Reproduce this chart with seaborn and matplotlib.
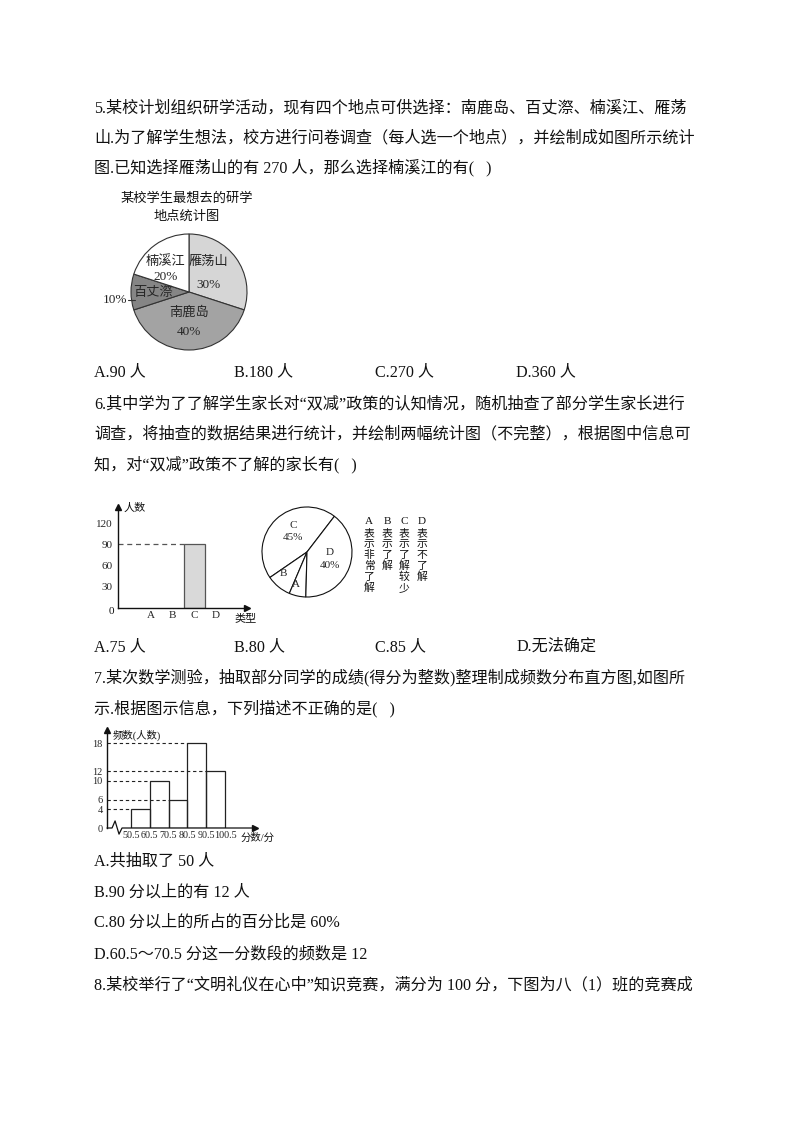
import numpy as np
import pandas as pd
import matplotlib
matplotlib.use("Agg")
import matplotlib.pyplot as plt
import seaborn as sns

# question 5: pie of study-trip spots
spots = ["雁荡山", "南鹿岛", "百丈漈", "楠溪江"]
spot_pct = [30, 40, 10, 20]
spot_colors = ["#d6d6d6", "#a3a3a3", "#858585", "#ffffff"]

# question 6: bar chart (only C known) and pie of parent groups
types = ["A", "B", "C", "D"]
known_types = ["C"]
known_counts = [90]
bar_ticks = [30, 60, 90, 120]
pie_types = ["C", "B", "A", "D"]
pie_pct = [45, 9, 6, 40]
legend_text = ["表示非常了解", "表示了解", "表示了解较少", "表示不了解"]

# question 7: frequency histogram
bin_edges = [50.5, 60.5, 70.5, 80.5, 90.5, 100.5]
bin_freq = [4, 10, 6, 18, 12]
freq_ticks = [0, 4, 6, 10, 12, 18]

# page text
q5_lines = [
    "5.某校计划组织研学活动，现有四个地点可供选择：南鹿岛、百丈漈、楠溪江、雁荡",
    "山.为了解学生想法，校方进行问卷调查（每人选一个地点），并绘制成如图所示统计",
    "图.已知选择雁荡山的有 270 人，那么选择楠溪江的有(   )",
]
q5_opts = ["A.90 人", "B.180 人", "C.270 人", "D.360 人"]
q6_lines = [
    "6.其中学为了了解学生家长对“双减”政策的认知情况，随机抽查了部分学生家长进行",
    "调查，将抽查的数据结果进行统计，并绘制两幅统计图（不完整），根据图中信息可",
    "知，对“双减”政策不了解的家长有(   )",
]
q6_opts = ["A.75 人", "B.80 人", "C.85 人", "D.无法确定"]
q7_lines = [
    "7.某次数学测验，抽取部分同学的成绩(得分为整数)整理制成频数分布直方图,如图所",
    "示.根据图示信息，下列描述不正确的是(   )",
]
q7_opts = [
    "A.共抽取了 50 人",
    "B.90 分以上的有 12 人",
    "C.80 分以上的所占的百分比是 60%",
    "D.60.5～70.5 分这一分数段的频数是 12",
]
q8_line = "8.某校举行了“文明礼仪在心中”知识竞赛，满分为 100 分，下图为八（1）班的竞赛成"

sns.set_theme(style="white")
plt.rcParams["font.family"] = ["Liberation Serif", "Noto Sans CJK SC"]

W, H = 794, 1123
fig = plt.figure(figsize=(W / 100, H / 100), dpi=100)
fig.patch.set_facecolor("white")


def box(x0, y0, x1, y1):
    return [x0 / W, 1 - y1 / H, (x1 - x0) / W, (y1 - y0) / H]


def put(x, y, s, size=11.6, ha="left", **kw):
    fig.text(x / W, 1 - y / H, s, fontsize=size, ha=ha, va="center",
             color="#111111", **kw)


# body text
for s, y in zip(q5_lines, [108, 138, 168]):
    put(94, y, s)
for s, x in zip(q5_opts, [94, 234, 375, 516]):
    put(x, 372, s)
for s, y in zip(q6_lines, [404, 434, 465]):
    put(94, y, s)
for s, x in zip(q6_opts, [94, 234, 375, 516]):
    put(x, 647, s)
for s, y in zip(q7_lines, [678, 709]):
    put(94, y, s)
for s, y in zip(q7_opts, [862, 893, 923, 954]):
    put(94, y, s)
put(94, 985, q8_line)

# ---- question 5 pie ----
cx, cy, r = 189, 292, 58
ax1 = fig.add_axes(box(cx - r - 2, cy - r - 2, cx + r + 2, cy + r + 2))
ax1.pie(spot_pct, colors=spot_colors, startangle=90, counterclock=False,
        wedgeprops=dict(edgecolor="#333333", linewidth=0.8))
lim = (r + 2) / r
ax1.set_xlim(-lim, lim)
ax1.set_ylim(-lim, lim)
ax1.set_aspect("equal")
ax1.axis("off")
put(187, 199, "某校学生最想去的研学", size=9.5, ha="center")
put(187, 217, "地点统计图", size=9.5, ha="center")
lab_pos = {"雁荡山": (0.33, 0.52, 0.12), "南鹿岛": (0.0, -0.36, -0.69),
           "楠溪江": (-0.41, 0.52, 0.26)}
for name, p in zip(spots, spot_pct):
    if name in lab_pos:
        lx, ly1, ly2 = lab_pos[name]
        ax1.text(lx, ly1, name, ha="center", va="center", fontsize=9.5)
        ax1.text(lx, ly2, f"{p}%", ha="center", va="center", fontsize=9.5)
ax1.text(-0.62, -0.02, spots[2], ha="center", va="center", fontsize=9.5)
ax1.text(-1.06, -0.14, f"{spot_pct[2]}%", ha="right", va="center", fontsize=9.5)
ax1.plot([-1.06, -0.93], [-0.14, -0.14], color="#333333", lw=0.8, clip_on=False)

# ---- question 6 bar chart ----
ax3 = fig.add_axes(box(118, 507, 247, 608))
sns.barplot(x=known_types, y=known_counts, order=types, width=1.0,
            color="#d9d9d9", edgecolor="#555555", linewidth=0.9,
            saturation=1, errorbar=None, ax=ax3)
x0, x1 = -1.52, 4.42
ax3.set_xlim(x0, x1)
ax3.set_ylim(0, 142.6)
ax3.hlines(known_counts[0], x0, types.index(known_types[0]) - 0.5,
           colors="#555555", linestyles=(0, (4, 3)), lw=0.9)
ax3.set_yticks(bar_ticks)
ax3.set_yticklabels([str(v) for v in bar_ticks], fontsize=8)
ax3.set_xticks(range(len(types)))
ax3.set_xticklabels(types, fontsize=8)
ax3.set_xticks(np.arange(-0.5, len(types), 1), minor=True)
ax3.tick_params(axis="x", which="major", length=0, pad=2)
ax3.tick_params(axis="x", which="minor", direction="in", length=4, width=0.8, color="#333333")
ax3.tick_params(axis="y", direction="out", length=3, width=0.8, pad=1, color="#333333")
ax3.set_xlabel("")
ax3.set_ylabel("")
sns.despine(ax=ax3)
for side in ["left", "bottom"]:
    ax3.spines[side].set_color("#111111")
    ax3.spines[side].set_linewidth(1.0)
ax3.plot(0, 1, marker="^", color="#111111", ms=5, transform=ax3.transAxes, clip_on=False)
ax3.plot(1, 0, marker=">", color="#111111", ms=5, transform=ax3.transAxes, clip_on=False)
ax3.patch.set_alpha(0)
put(111, 612, "0", size=8, ha="center")
put(124, 508, "人数", size=8)
put(246, 618, "类型", size=8, ha="center")

# ---- question 6 pie ----
px, py, pr = 307, 552, 45
ax2 = fig.add_axes(box(px - pr - 2, py - pr - 2, px + pr + 2, py + pr + 2))
ax2.pie(pie_pct, colors=["white"] * len(pie_pct), startangle=52.5,
        counterclock=True, wedgeprops=dict(edgecolor="#111111", linewidth=0.8))
lim = (pr + 2) / pr
ax2.set_xlim(-lim, lim)
ax2.set_ylim(-lim, lim)
ax2.set_aspect("equal")
ax2.axis("off")
pie_lab = {"C": (-0.31, 0.58, 0.33), "D": (0.51, -0.02, -0.29),
           "B": (-0.53, -0.47, None), "A": (-0.24, -0.73, None)}
for t, p in zip(pie_types, pie_pct):
    lx, ly1, ly2 = pie_lab[t]
    ax2.text(lx, ly1, t, ha="center", va="center", fontsize=8)
    if ly2 is not None:
        ax2.text(lx, ly2, f"{p}%", ha="center", va="center", fontsize=8)

# vertical legend
for t, desc, x in zip(types, legend_text, [369, 387, 404, 422]):
    put(x, 522, t, size=8, ha="center")
    for i, ch in enumerate(desc):
        put(x, 533 + i * 11.0, ch, size=7.8, ha="center")

# ---- question 7 histogram ----
ax4 = fig.add_axes(box(107, 730, 255, 828))
mids = [(a + b) / 2 for a, b in zip(bin_edges[:-1], bin_edges[1:])]
sns.histplot(x=mids, weights=bin_freq, bins=bin_edges, fill=False,
             color="#222222", linewidth=0.9, ax=ax4)
hx0, hx1 = 37.7, 116.5
ax4.set_xlim(hx0, hx1)
ax4.set_ylim(0, 20.8)
for edge, f in zip(bin_edges[:-1], bin_freq):
    ax4.hlines(f, hx0, edge, colors="#222222", linestyles=(0, (3, 2.5)), lw=0.8)
ax4.set_yticks(freq_ticks)
ax4.set_yticklabels([str(v) for v in freq_ticks], fontsize=7.5)
ax4.set_xticks(bin_edges)
ax4.set_xticklabels([f"{v:g}" for v in bin_edges], fontsize=7.3)
ax4.tick_params(axis="x", length=0, pad=2)
ax4.tick_params(axis="y", direction="out", length=2, width=0.8, pad=1)
ax4.set_xlabel("")
ax4.set_ylabel("")
sns.despine(ax=ax4, bottom=True)
ax4.spines["left"].set_color("#111111")
ax4.spines["left"].set_linewidth(1.0)
# x axis with break mark near the origin
ax4.plot([hx0, 40.4, 42.0, 44.1, 45.7, hx1], [0, 0, 1.5, -1.3, 0, 0],
         color="#111111", lw=0.9, clip_on=False)
ax4.plot(0, 1, marker="^", color="#111111", ms=4, transform=ax4.transAxes, clip_on=False)
ax4.plot(1, 0, marker=">", color="#111111", ms=4, transform=ax4.transAxes, clip_on=False)
ax4.patch.set_alpha(0)
put(113, 735, "频数(人数)", size=7.5)
put(258, 838, "分数/分", size=7.5, ha="center")

fig.savefig("out.png", dpi=100, facecolor="white")
